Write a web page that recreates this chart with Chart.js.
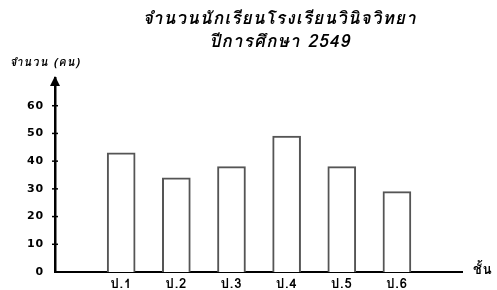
<!DOCTYPE html>
<html>
<head>
<meta charset="utf-8">
<script src="https://cdn.jsdelivr.net/npm/chart.js@4"></script>
<style>
  body { margin: 0; background: #fff; }
  #wrap { width: 497px; height: 290px; }
</style>
</head>
<body>
<div id="wrap"><canvas id="myChart" width="497" height="290"></canvas></div>
<script>
const titleLines = ['จำนวนนักเรียนโรงเรียนวินิจวิทยา', 'ปีการศึกษา 2549'];
const yAxisTitle = 'จำนวน (คน)';
const xAxisTitle = 'ชั้น';
const classLabels = ['ป.1', 'ป.2', 'ป.3', 'ป.4', 'ป.5', 'ป.6'];
const studentCounts = [43, 34, 38, 49, 38, 29];
const yTicks = [0, 10, 20, 30, 40, 50, 60];

const thaiFont = 'Garuda, Loma, Tahoma, "Noto Sans Thai", "DejaVu Sans", sans-serif';

// arrow on y axis, small cross ticks, titles
const decorPlugin = {
    id: 'decor',
    beforeDraw(chart) {
        chart.ctx.letterSpacing = '0.8px';
    },
    afterDraw(chart) {
        const ctx = chart.ctx;
        const area = chart.chartArea;
        const yScale = chart.scales.y;
        ctx.save();
        ctx.fillStyle = '#000';
        ctx.strokeStyle = '#000';
        ctx.lineWidth = 1.5;
        // ticks crossing the axis
        yTicks.forEach(v => {
            if (v === 0) return;
            const py = yScale.getPixelForValue(v);
            ctx.beginPath();
            ctx.moveTo(area.left - 3, py);
            ctx.lineTo(area.left + 3, py);
            ctx.stroke();
        });
        // arrow head
        ctx.beginPath();
        ctx.moveTo(area.left, area.top - 2);
        ctx.lineTo(area.left - 5, area.top + 8);
        ctx.lineTo(area.left + 5, area.top + 8);
        ctx.closePath();
        ctx.fill();

        ctx.textBaseline = 'middle';
        ctx.textAlign = 'center';
        ctx.letterSpacing = '1.2px';
        ctx.font = 'italic bold 17px ' + thaiFont;
        ctx.fillText(titleLines[0], 280, 20);
        ctx.fillText(titleLines[1], 280, 43);

        ctx.textAlign = 'left';
        ctx.letterSpacing = '1.2px';
        ctx.font = 'italic bold 11px ' + thaiFont;
        ctx.fillText(yAxisTitle, 10, 64);

        ctx.letterSpacing = '1px';
        ctx.font = 'bold 13px ' + thaiFont;
        ctx.fillText(xAxisTitle, 473, area.bottom - 1);
        ctx.restore();
    }
};

const ctx = document.getElementById('myChart').getContext('2d');
const chart = new Chart(ctx, {
    type: 'bar',
    data: {
        datasets: [
            {
                data: studentCounts.map((v, i) => ({ x: i + 1, y: v })),
                backgroundColor: '#fff',
                borderColor: '#555',
                borderWidth: 2,
                borderSkipped: 'bottom',
                barThickness: 28,
            },
        ],
    },
    options: {
        responsive: false,
        animation: false,
        layout: { padding: { left: 0, right: 35, top: 78, bottom: 0 } },
        plugins: {
            legend: { display: false },
            tooltip: { enabled: false },
        },
        scales: {
            x: {
                type: 'linear',
                offset: false,
                min: -0.2,
                max: 7.18,
                afterBuildTicks: (scale) => {
                    scale.ticks = classLabels.map((_, i) => ({ value: i + 1 }));
                },
                afterFit: (scale) => { scale.height = 18; },
                grid: { display: false, drawTicks: false, offset: false },
                border: { color: '#000', width: 2 },
                ticks: {
                    autoSkip: false,
                    maxRotation: 0,
                    padding: 5,
                    color: '#000',
                    font: { family: thaiFont, size: 13, weight: 'bold' },
                    callback: (v) => classLabels[v - 1] || '',
                },
            },
            y: {
                min: 0,
                max: 70,
                afterBuildTicks: (scale) => {
                    scale.ticks = yTicks.map(v => ({ value: v }));
                },
                afterFit: (scale) => { scale.width = 55; },
                grid: { display: false, drawTicks: false },
                border: { color: '#000', width: 2.5 },
                ticks: {
                    padding: 11,
                    color: '#000',
                    font: { family: '"DejaVu Sans", sans-serif', size: 11, weight: 'bold' },
                },
            },
        },
    },
    plugins: [decorPlugin],
});
</script>
</body>
</html>
